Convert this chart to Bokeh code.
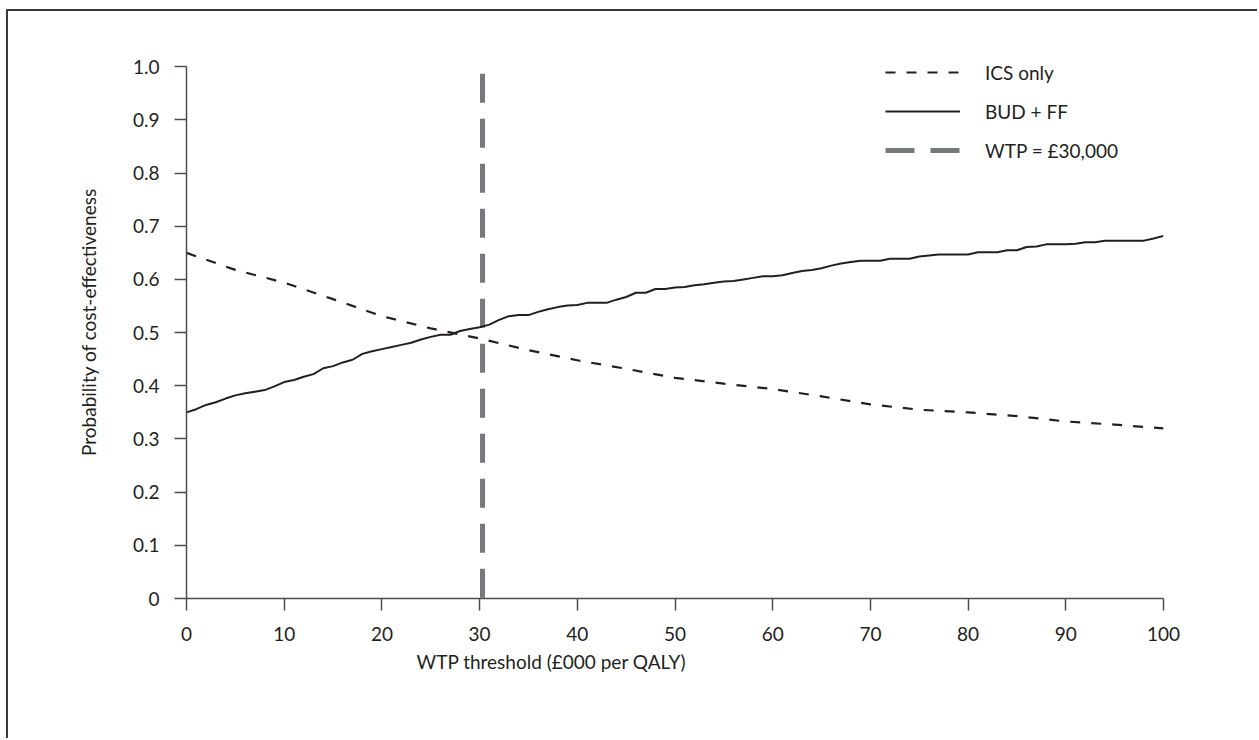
from bokeh.plotting import figure
from bokeh.models import Range1d, FixedTicker, Legend, LegendItem, Title
from bokeh.embed import file_html
from bokeh.resources import INLINE

# ---------------- data ----------------
wtp_x = list(range(0, 101))
bud_ff = [0.350, 0.356, 0.364, 0.369, 0.376, 0.382, 0.386, 0.389, 0.392, 0.399,
          0.407, 0.411, 0.417, 0.422, 0.433, 0.437, 0.444, 0.449, 0.460, 0.465,
          0.469, 0.473, 0.477, 0.481, 0.487, 0.492, 0.496, 0.496, 0.503, 0.507,
          0.510, 0.515, 0.524, 0.531, 0.533, 0.533, 0.539, 0.544, 0.548, 0.551,
          0.552, 0.556, 0.556, 0.556, 0.562, 0.567, 0.575, 0.575, 0.582, 0.582,
          0.585, 0.586, 0.589, 0.591, 0.594, 0.596, 0.597, 0.600, 0.603, 0.606,
          0.606, 0.608, 0.612, 0.616, 0.618, 0.621, 0.626, 0.630, 0.633, 0.635,
          0.635, 0.635, 0.639, 0.639, 0.639, 0.643, 0.645, 0.647, 0.647, 0.647,
          0.647, 0.651, 0.651, 0.651, 0.655, 0.655, 0.661, 0.662, 0.666, 0.666,
          0.666, 0.667, 0.670, 0.670, 0.673, 0.673, 0.673, 0.673, 0.673, 0.677,
          0.682]
ics_x = [0, 5, 10, 15, 20, 25, 30, 35, 40, 45, 50, 55, 60, 65, 70, 75, 80, 85, 90, 95, 100]
ics_only = [0.650, 0.618, 0.594, 0.563, 0.531, 0.508, 0.489, 0.467, 0.448, 0.432,
            0.415, 0.404, 0.394, 0.380, 0.365, 0.355, 0.350, 0.343, 0.333, 0.327, 0.320]
wtp_line_x = [30.3, 30.3]
wtp_line_y = [0.987, 0.0]
x_ticks = [0, 10, 20, 30, 40, 50, 60, 70, 80, 90, 100]
y_ticks = [0.0, 0.1, 0.2, 0.3, 0.4, 0.5, 0.6, 0.7, 0.8, 0.9, 1.0]
y_tick_labels = ["0", "0.1", "0.2", "0.3", "0.4", "0.5", "0.6", "0.7", "0.8", "0.9", "1.0"]
series_labels = ["ICS only", "BUD + FF", "WTP = £30,000"]
x_title = "WTP threshold (£000 per QALY)"
y_title = "Probability of cost-effectiveness"

FONT = "Lato"
FS = "19px"
INK = "#231f20"
AXIS = "#4d4d4f"

p = figure(width=1251, height=729, output_backend="svg", toolbar_location=None,
           x_range=Range1d(0, 100), y_range=Range1d(0, 1.04),
           min_border_left=178, min_border_right=96,
           min_border_top=34, min_border_bottom=142)
p.styles = {"border-left": "2px solid #3a3a3a", "border-top": "2px solid #3a3a3a",
            "margin-left": "6px", "margin-top": "9px"}
p.outline_line_color = None
p.grid.visible = False
p.background_fill_color = "white"
p.border_fill_color = "white"

r_wtp = p.line(wtp_line_x, wtp_line_y, line_color="#77787b", line_width=5, line_dash="29 16")
r_ics = p.line(ics_x, ics_only, line_color=INK, line_width=2.2, line_dash="10 11")
r_bud = p.line(wtp_x, bud_ff, line_color=INK, line_width=2)

for ax in (p.xaxis[0], p.yaxis[0]):
    ax.axis_line_color = AXIS
    ax.axis_line_width = 1.5
    ax.major_tick_line_color = AXIS
    ax.major_tick_line_width = 1.5
    ax.major_tick_out = 12
    ax.major_tick_in = 0
    ax.minor_tick_line_color = None
    ax.major_label_text_font = FONT
    ax.major_label_text_font_size = FS
    ax.major_label_text_color = INK
    ax.axis_label_text_font = FONT
    ax.axis_label_text_font_size = FS
    ax.axis_label_text_font_style = "normal"
    ax.axis_label_text_color = INK

p.xaxis.ticker = FixedTicker(ticks=x_ticks)
p.yaxis.ticker = FixedTicker(ticks=y_ticks)
p.yaxis.bounds = (0, 1)
p.yaxis.major_label_overrides = {t: l for t, l in zip(y_ticks, y_tick_labels)}
p.xaxis.major_label_standoff = 16
p.yaxis.major_label_standoff = 15
p.yaxis.axis_label = y_title
p.yaxis.axis_label_standoff = 30

p.add_layout(Title(text=x_title, align="left", offset=230, standoff=9,
                   text_font=FONT, text_font_size=FS, text_font_style="normal",
                   text_color=INK), "below")

legend = Legend(items=[LegendItem(label=series_labels[0], renderers=[r_ics]),
                       LegendItem(label=series_labels[1], renderers=[r_bud]),
                       LegendItem(label=series_labels[2], renderers=[r_wtp])],
                location=(699, 436), orientation="vertical",
                glyph_width=75, glyph_height=24, label_height=24, spacing=15,
                label_standoff=25, padding=0, margin=0,
                border_line_color=None, background_fill_alpha=0,
                label_text_font=FONT, label_text_font_size=FS, label_text_color=INK)
p.add_layout(legend)

open("out.html", "w").write(file_html(p, INLINE))
